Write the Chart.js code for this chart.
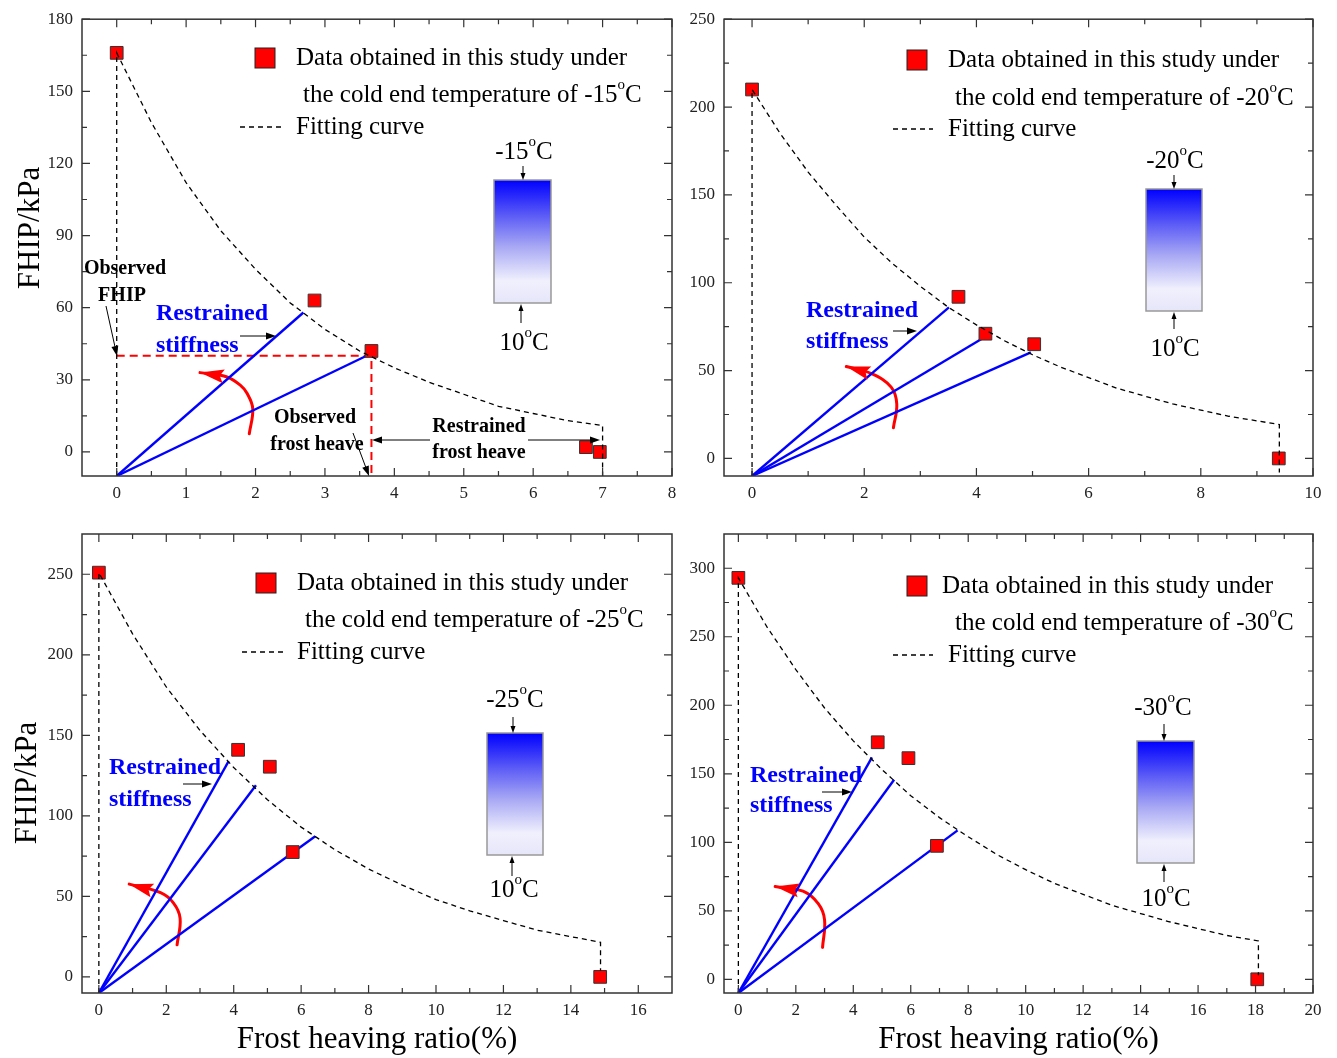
<!DOCTYPE html>
<html>
<head>
<meta charset="utf-8">
<script src="https://cdn.jsdelivr.net/npm/chart.js@4.4.1/dist/chart.umd.min.js"></script>
<style>
  body { margin: 0; background: #fff; }
  .wrap { position: relative; width: 1337px; height: 1058px; }
  canvas { position: absolute; left: 0; top: 0; }
</style>
</head>
<body>
<div class="wrap">
  <canvas id="c15" width="1337" height="1058"></canvas>
  <canvas id="c20" width="1337" height="1058"></canvas>
  <canvas id="c25" width="1337" height="1058"></canvas>
  <canvas id="c30" width="1337" height="1058"></canvas>
</div>
<script>
const serif = '"Liberation Serif", "Times New Roman", serif';

// stiffness lines all start from this point
const originRatio = 0;
const originFhip = -10;

// ---- cold end -15 C ----
const ratio15 = [0, 2.85, 3.67, 6.76, 6.96];
const fhip15 = [166, 63, 42, 2, 0];
const fitRatio15 = [0, 0, 0.5, 1, 1.5, 2, 2.5, 3, 3.5, 4, 4.5, 5, 5.5, 6, 6.5, 7, 7];
const fitFhip15 = [-10, 166, 137, 112, 92, 76, 62, 51, 42, 35, 29, 24, 19, 16, 13, 11, -10];
const stiffRatio15 = [2.69, 3.6];
const stiffFhip15 = [58, 40];
const arcRatio15 = [1.91, 1.96, 1.88, 1.78, 1.58, 1.2];
const arcFhip15 = [7.6, 18, 24.3, 27.8, 31.3, 33];
const obsRatio15 = [0, 3.67, 3.67];
const obsFhip15 = [40, 40, -10];
const xTicks15 = [0, 1, 2, 3, 4, 5, 6, 7, 8];
const yTicks15 = [0, 30, 60, 90, 120, 150, 180];

// ---- cold end -20 C ----
const ratio20 = [0, 3.68, 4.16, 5.03, 9.39];
const fhip20 = [210, 92, 71, 65, 0];
const fitRatio20 = [0, 0, 0.5, 1, 1.5, 2, 2.5, 3, 3.5, 4, 4.5, 5, 5.5, 6, 6.5, 7, 7.5, 8, 8.5, 9, 9.4, 9.4];
const fitFhip20 = [-10, 210, 185, 163, 144, 126, 111, 98, 86, 76, 67, 59, 52, 46, 40, 35.5, 31, 27.5, 24, 21.4, 19.3, -8];
const stiffRatio20 = [3.51, 4.12, 4.97];
const stiffFhip20 = [86, 68.5, 60.4];
const arcRatio20 = [2.52, 2.58, 2.48, 2.14, 1.68];
const arcFhip20 = [17.5, 31, 40.6, 48.1, 52.3];
const xTicks20 = [0, 2, 4, 6, 8, 10];
const yTicks20 = [0, 50, 100, 150, 200, 250];

// ---- cold end -25 C ----
const ratio25 = [0, 4.13, 5.07, 5.75, 14.87];
const fhip25 = [251, 141, 130.5, 77.5, 0];
const fitRatio25 = [0, 0, 1, 2, 3, 4, 5, 6, 7, 8, 9, 10, 11, 12, 13, 14, 14.88, 14.88];
const fitFhip25 = [-10, 251, 213, 180, 153, 130, 110, 93, 79, 67, 57, 48, 41, 35, 29, 25, 21.5, 4];
const stiffRatio25 = [3.85, 4.66, 6.42];
const stiffFhip25 = [134, 119, 87.3];
const arcRatio25 = [2.32, 2.41, 2.21, 1.83, 0.9];
const arcFhip25 = [19.9, 36.4, 46, 52.3, 57.6];
const xTicks25 = [0, 2, 4, 6, 8, 10, 12, 14, 16];
const yTicks25 = [0, 50, 100, 150, 200, 250];

// ---- cold end -30 C ----
const ratio30 = [0, 4.85, 5.92, 6.91, 18.06];
const fhip30 = [293, 173, 161.4, 97.4, 0];
const fitRatio30 = [0, 0, 1, 2, 3, 4, 5, 6, 7, 8, 9, 10, 11, 12, 13, 14, 15, 16, 17, 18.1, 18.1];
const fitFhip30 = [-10, 293, 257, 226, 198, 174, 153, 134, 118, 104, 91, 80, 70, 62, 54, 48, 42, 37, 32, 28, 3];
const stiffRatio30 = [4.65, 5.42, 7.63];
const stiffFhip30 = [162, 145.6, 108.7];
const arcRatio30 = [2.93, 3.0, 2.78, 2.25, 1.28];
const arcFhip30 = [23.3, 43.4, 55.2, 64.3, 67.8];
const xTicks30 = [0, 2, 4, 6, 8, 10, 12, 14, 16, 18, 20];
const yTicks30 = [0, 50, 100, 150, 200, 250, 300];

const pts = (xs, ys) => xs.map((x, i) => ({ x: x, y: ys[i] }));

function minorTicks(major, min, max) {
  const out = [];
  const step = major[1] - major[0];
  if (major[0] - step / 2 > min) out.push(major[0] - step / 2);
  for (let i = 0; i < major.length - 1; i++) out.push((major[i] + major[i + 1]) / 2);
  const last = major[major.length - 1] + step / 2;
  if (last < max) out.push(last);
  return out;
}

function arrow(ctx, x1, y1, x2, y2, len, half) {
  len = len || 8; half = half || 3;
  const a = Math.atan2(y2 - y1, x2 - x1);
  ctx.beginPath();
  ctx.moveTo(x1, y1);
  ctx.lineTo(x2 - Math.cos(a) * len * 0.6, y2 - Math.sin(a) * len * 0.6);
  ctx.stroke();
  ctx.beginPath();
  ctx.moveTo(x2, y2);
  ctx.lineTo(x2 - Math.cos(a) * len - Math.sin(a) * half, y2 - Math.sin(a) * len + Math.cos(a) * half);
  ctx.lineTo(x2 - Math.cos(a) * len + Math.sin(a) * half, y2 - Math.sin(a) * len - Math.cos(a) * half);
  ctx.closePath();
  ctx.fill();
}

// text followed by a superscript "o" and "C"
function degText(ctx, txt, x, y, size, align) {
  const big = size + 'px ' + serif;
  const small = Math.round(size * 0.6) + 'px ' + serif;
  ctx.font = big; const w1 = ctx.measureText(txt).width;
  ctx.font = small; const w2 = ctx.measureText('o').width;
  ctx.font = big; const w3 = ctx.measureText('C').width;
  const x0 = align === 'center' ? x - (w1 + w2 + w3) / 2 : x;
  ctx.textAlign = 'left';
  ctx.textBaseline = 'middle';
  ctx.fillText(txt, x0, y);
  ctx.font = small; ctx.fillText('o', x0 + w1, y - size * 0.38);
  ctx.font = big; ctx.fillText('C', x0 + w1 + w2, y);
}

function makeDecor(p) {
  return {
    id: 'decor',
    afterDatasetsDraw(chart) {
      const ctx = chart.ctx;
      const { left, right, top, bottom } = chart.chartArea;
      const xs = chart.scales.x, ys = chart.scales.y;
      ctx.save();

      // frame + inward ticks on all four sides
      ctx.strokeStyle = '#333';
      ctx.lineWidth = 1.5;
      ctx.strokeRect(left, top, right - left, bottom - top);
      ctx.lineWidth = 1.2;
      const tick = (vals, len) => {
        vals.forEach(v => {
          const px = xs.getPixelForValue(v);
          ctx.beginPath();
          ctx.moveTo(px, bottom); ctx.lineTo(px, bottom - len);
          ctx.moveTo(px, top); ctx.lineTo(px, top + len);
          ctx.stroke();
        });
      };
      const tickY = (vals, len) => {
        vals.forEach(v => {
          const py = ys.getPixelForValue(v);
          ctx.beginPath();
          ctx.moveTo(left, py); ctx.lineTo(left + len, py);
          ctx.moveTo(right, py); ctx.lineTo(right - len, py);
          ctx.stroke();
        });
      };
      tick(p.xTicks, 8);
      tick(minorTicks(p.xTicks, -0.5, p.xMax), 5);
      tickY(p.yTicks, 8);
      tickY(minorTicks(p.yTicks, -10, p.yMax), 5);

      ctx.fillStyle = '#000';
      ctx.strokeStyle = '#000';

      // y axis title
      if (p.yTitle) {
        ctx.save();
        ctx.translate(p.yTitle[0], p.yTitle[1]);
        ctx.rotate(-Math.PI / 2);
        ctx.font = '31px ' + serif;
        ctx.textAlign = 'center';
        ctx.textBaseline = 'middle';
        ctx.fillText('FHIP/kPa', 0, 0);
        ctx.restore();
      }

      // legend
      const L = p.legend;
      ctx.fillStyle = '#ff0000';
      ctx.fillRect(L.sq[0] - 10, L.sq[1] - 10, 20, 20);
      ctx.strokeStyle = '#222';
      ctx.lineWidth = 1;
      ctx.strokeRect(L.sq[0] - 10, L.sq[1] - 10, 20, 20);
      ctx.fillStyle = '#000';
      ctx.font = '25px ' + serif;
      ctx.textAlign = 'left';
      ctx.textBaseline = 'middle';
      ctx.fillText('Data obtained in this study under', L.t1[0], L.t1[1]);
      degText(ctx, 'the cold end temperature of ' + p.temp, L.t2[0], L.t2[1], 25, 'left');
      ctx.font = '25px ' + serif;
      ctx.fillText('Fitting curve', L.t3[0], L.t3[1]);
      ctx.strokeStyle = '#000';
      ctx.lineWidth = 1.3;
      ctx.setLineDash([5, 4]);
      ctx.beginPath();
      ctx.moveTo(L.dash[0], L.dash[2]); ctx.lineTo(L.dash[1], L.dash[2]);
      ctx.stroke();
      ctx.setLineDash([]);

      // sample sketch with temperature gradient
      const B = p.box;
      const g = ctx.createLinearGradient(0, B.y, 0, B.y + B.h);
      g.addColorStop(0, 'rgb(0,0,255)');
      g.addColorStop(0.3, 'rgb(95,95,246)');
      g.addColorStop(0.55, 'rgb(170,170,244)');
      g.addColorStop(0.82, 'rgb(240,240,253)');
      g.addColorStop(1, 'rgb(230,230,250)');
      ctx.fillStyle = g;
      ctx.fillRect(B.x, B.y, B.w, B.h);
      ctx.strokeStyle = '#999';
      ctx.lineWidth = 1.5;
      ctx.strokeRect(B.x, B.y, B.w, B.h);
      ctx.fillStyle = '#000';
      ctx.strokeStyle = '#000';
      ctx.lineWidth = 1;
      degText(ctx, p.temp, B.topLabel[0], B.topLabel[1], 25, 'center');
      degText(ctx, '10', B.botLabel[0], B.botLabel[1], 25, 'center');
      arrow(ctx, B.topArrow[0], B.topArrow[1], B.topArrow[2], B.topArrow[3], 7, 2.5);
      arrow(ctx, B.botArrow[0], B.botArrow[1], B.botArrow[2], B.botArrow[3], 7, 2.5);

      // "Restrained stiffness"
      const S = p.stiffLabel;
      ctx.fillStyle = '#0000ff';
      ctx.font = 'bold 24px ' + serif;
      ctx.textAlign = 'left';
      ctx.textBaseline = 'middle';
      ctx.fillText('Restrained', S.l1[0], S.l1[1]);
      ctx.fillText('stiffness', S.l2[0], S.l2[1]);
      ctx.fillStyle = '#000';
      arrow(ctx, S.arrow[0], S.arrow[1], S.arrow[2], S.arrow[3], 10, 3.5);

      // extra black bold notes
      (p.notes || []).forEach(n => {
        ctx.font = 'bold 20px ' + serif;
        ctx.textAlign = 'center';
        ctx.textBaseline = 'middle';
        ctx.fillStyle = '#000';
        n.lines.forEach(l => ctx.fillText(l[0], l[1], l[2]));
        n.arrows.forEach(a => arrow(ctx, a[0], a[1], a[2], a[3], 10, 3.5));
      });

      // arrow head on the red rotation arc
      const ax = p.arcX, ay = p.arcY, k = ax.length - 1;
      const tx = xs.getPixelForValue(ax[k]), ty = ys.getPixelForValue(ay[k]);
      const bx = xs.getPixelForValue(ax[k - 1]), by = ys.getPixelForValue(ay[k - 1]);
      const ang = Math.atan2(ty - by, tx - bx);
      ctx.fillStyle = '#ff0000';
      ctx.beginPath();
      ctx.moveTo(tx, ty);
      ctx.lineTo(tx - Math.cos(ang) * 24 - Math.sin(ang) * 7, ty - Math.sin(ang) * 24 + Math.cos(ang) * 7);
      ctx.lineTo(tx - Math.cos(ang) * 20, ty - Math.sin(ang) * 20);
      ctx.lineTo(tx - Math.cos(ang) * 24 + Math.sin(ang) * 7, ty - Math.sin(ang) * 24 - Math.cos(ang) * 7);
      ctx.closePath();
      ctx.fill();

      ctx.restore();
    }
  };
}

function panel(id, p) {
  const datasets = [];
  datasets.push({
    type: 'line', data: pts(p.fitX, p.fitY), borderColor: '#000', borderWidth: 1.3,
    borderDash: [5, 4], pointRadius: 0, tension: 0, fill: false
  });
  datasets.push({
    type: 'scatter', data: pts(p.ptX, p.ptY), pointStyle: 'rect', pointRadius: 9,
    backgroundColor: '#ff0000', borderColor: '#333', borderWidth: 1
  });
  p.stiffX.forEach((x, i) => {
    datasets.push({
      type: 'line', data: [{ x: originRatio, y: originFhip }, { x: x, y: p.stiffY[i] }],
      borderColor: '#0000ff', borderWidth: 2.4, pointRadius: 0, fill: false
    });
  });
  datasets.push({
    type: 'line', data: pts(p.arcX, p.arcY), borderColor: '#ff0000', borderWidth: 3,
    pointRadius: 0, tension: 0.4, fill: false, borderCapStyle: 'round'
  });
  if (p.obsX) {
    datasets.push({
      type: 'line', data: pts(p.obsX, p.obsY), borderColor: '#ff0000', borderWidth: 2,
      borderDash: [8, 5], pointRadius: 0, fill: false
    });
  }
  const tickFont = { family: serif, size: 17 };
  new Chart(document.getElementById(id), {
    type: 'scatter',
    data: { datasets: datasets },
    options: {
      responsive: false,
      animation: false,
      devicePixelRatio: 1,
      layout: { padding: p.pad },
      plugins: { legend: { display: false }, tooltip: { enabled: false } },
      scales: {
        x: {
          type: 'linear', min: -0.5, max: p.xMax,
          afterBuildTicks: s => { s.ticks = p.xTicks.map(v => ({ value: v })); },
          afterFit: s => { s.height = p.xH; },
          grid: { display: false, drawTicks: false },
          border: { display: false },
          ticks: { font: tickFont, color: '#222', padding: 7, maxRotation: 0, autoSkip: false, callback: v => String(v) },
          title: p.xTitle
            ? { display: true, text: 'Frost heaving ratio(%)', color: '#000', font: { family: serif, size: 31, lineHeight: 1 }, padding: 0 }
            : { display: false }
        },
        y: {
          type: 'linear', min: -10, max: p.yMax,
          afterBuildTicks: s => { s.ticks = p.yTicks.map(v => ({ value: v })); },
          afterFit: s => { s.width = p.yW; },
          grid: { display: false, drawTicks: false },
          border: { display: false },
          ticks: { font: tickFont, color: '#222', padding: 9, autoSkip: false, callback: v => String(v) }
        }
      }
    },
    plugins: [makeDecor(p)]
  });
}

panel('c15', {
  ptX: ratio15, ptY: fhip15, fitX: fitRatio15, fitY: fitFhip15,
  stiffX: stiffRatio15, stiffY: stiffFhip15, arcX: arcRatio15, arcY: arcFhip15,
  obsX: obsRatio15, obsY: obsFhip15,
  xTicks: xTicks15, yTicks: yTicks15, xMax: 8, yMax: 180,
  pad: { left: 0, right: 665, top: 17, bottom: 542 }, xH: 40, yW: 82, xTitle: false,
  yTitle: [31, 228], temp: '-15',
  legend: { sq: [265, 58], t1: [296, 58], t2: [303, 95], dash: [240, 281, 127], t3: [296, 127] },
  box: { x: 494, y: 180, w: 57, h: 123, topLabel: [524, 152], botLabel: [524, 343],
         topArrow: [523, 166, 523, 180], botArrow: [521, 323, 521, 304] },
  stiffLabel: { l1: [156, 314], l2: [156, 346], arrow: [240, 336, 276, 336] },
  notes: [
    { lines: [['Observed', 125, 269], ['FHIP', 122, 296]], arrows: [[106, 306, 117, 356]] },
    { lines: [['Observed', 315, 418], ['frost heave', 317, 445]], arrows: [[353, 433, 369, 476]] },
    { lines: [['Restrained', 479, 427], ['frost heave', 479, 453]], arrows: [[430, 440, 372, 440], [528, 440, 600, 440]] }
  ]
});

panel('c20', {
  ptX: ratio20, ptY: fhip20, fitX: fitRatio20, fitY: fitFhip20,
  stiffX: stiffRatio20, stiffY: stiffFhip20, arcX: arcRatio20, arcY: arcFhip20,
  xTicks: xTicks20, yTicks: yTicks20, xMax: 10, yMax: 250,
  pad: { left: 676, right: 24, top: 17, bottom: 542 }, xH: 40, yW: 48, xTitle: false,
  yTitle: null, temp: '-20',
  legend: { sq: [917, 60], t1: [948, 60], t2: [955, 98], dash: [893, 933, 129], t3: [948, 129] },
  box: { x: 1146, y: 189, w: 56, h: 122, topLabel: [1175, 161], botLabel: [1175, 349],
         topArrow: [1174, 175, 1174, 189], botArrow: [1174, 329, 1174, 312] },
  stiffLabel: { l1: [806, 311], l2: [806, 342], arrow: [893, 331, 917, 331] }
});

panel('c25', {
  ptX: ratio25, ptY: fhip25, fitX: fitRatio25, fitY: fitFhip25,
  stiffX: stiffRatio25, stiffY: stiffFhip25, arcX: arcRatio25, arcY: arcFhip25,
  xTicks: xTicks25, yTicks: yTicks25, xMax: 17, yMax: 275,
  pad: { left: 0, right: 665, top: 534, bottom: 3 }, xH: 62, yW: 82, xTitle: true,
  yTitle: [28, 783], temp: '-25',
  legend: { sq: [266, 583], t1: [297, 583], t2: [305, 620], dash: [242, 283, 652], t3: [297, 652] },
  box: { x: 487, y: 733, w: 56, h: 122, topLabel: [515, 700], botLabel: [514, 890],
         topArrow: [513, 717, 513, 733], botArrow: [512, 876, 512, 856] },
  stiffLabel: { l1: [109, 768], l2: [109, 800], arrow: [183, 784, 212, 784] }
});

panel('c30', {
  ptX: ratio30, ptY: fhip30, fitX: fitRatio30, fitY: fitFhip30,
  stiffX: stiffRatio30, stiffY: stiffFhip30, arcX: arcRatio30, arcY: arcFhip30,
  xTicks: xTicks30, yTicks: yTicks30, xMax: 20, yMax: 325,
  pad: { left: 676, right: 24, top: 534, bottom: 3 }, xH: 62, yW: 48, xTitle: true,
  yTitle: null, temp: '-30',
  legend: { sq: [917, 586], t1: [942, 586], t2: [955, 623], dash: [893, 933, 655], t3: [948, 655] },
  box: { x: 1137, y: 741, w: 57, h: 122, topLabel: [1163, 708], botLabel: [1166, 899],
         topArrow: [1164, 724, 1164, 741], botArrow: [1164, 882, 1164, 864] },
  stiffLabel: { l1: [750, 776], l2: [750, 806], arrow: [822, 792, 852, 792] }
});
</script>
</body>
</html>
